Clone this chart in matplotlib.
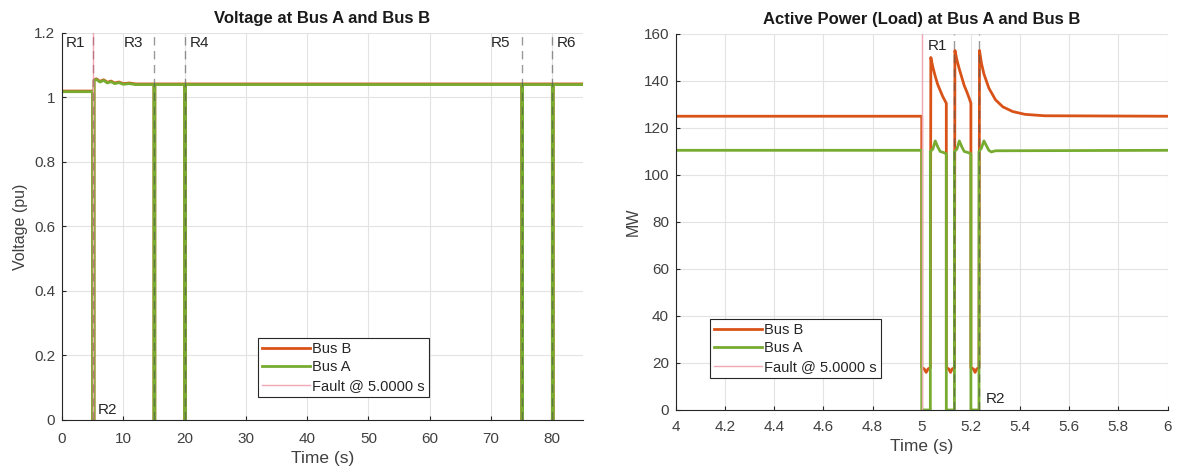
import matplotlib.pyplot as plt

plt.rcParams["font.family"] = ["Liberation Sans", "DejaVu Sans"]

BUS_B = "#D95319"
BUS_A = "#77AC30"
FAULT = "#F2A7B5"
TXT = "#404040"

# ── left: voltage over full run ──────────────────────────────────────────────
v_t = [0, 5.0, 5.0, 5.23, 5.23, 5.6, 6.2, 6.8, 7.4, 8.0, 8.6, 9.3, 10.0, 11.0,
       12.0, 15.0, 15.0, 15.15, 15.15, 20.0, 20.0, 20.15, 20.15, 75.0, 75.0,
       75.15, 75.15, 80.0, 80.0, 80.15, 80.15, 85.0]
v_a = [1.018, 1.018, 0, 0, 1.052, 1.056, 1.048, 1.053, 1.045, 1.049, 1.043,
       1.046, 1.041, 1.043, 1.040, 1.040, 0, 0, 1.040, 1.040, 0, 0, 1.040,
       1.040, 0, 0, 1.040, 1.040, 0, 0, 1.040, 1.040]
v_b = [1.020, 1.020, 0, 0, 1.054, 1.058, 1.050, 1.055, 1.047, 1.051, 1.045,
       1.048, 1.043, 1.045, 1.042, 1.042, 0, 0, 1.042, 1.042, 0, 0, 1.042,
       1.042, 0, 0, 1.042, 1.042, 0, 0, 1.042, 1.042]
v_marks = [5, 15, 20, 75, 80]
v_labels = [("R1", 0.6, "top"), ("R3", 10.0, "top"), ("R4", 20.9, "top"),
            ("R5", 70.0, "top"), ("R6", 80.8, "top"), ("R2", 5.9, "bottom")]

# ── right: active power zoomed on the fault ─────────────────────────────────
p_t_b = [4.0, 5.0, 5.0, 5.01, 5.018, 5.026, 5.035, 5.037, 5.045, 5.055, 5.065,
         5.075, 5.085, 5.1, 5.1, 5.11, 5.117, 5.124, 5.133, 5.135, 5.143, 5.153,
         5.163, 5.173, 5.183, 5.192, 5.2, 5.2, 5.21, 5.217, 5.224, 5.233, 5.235,
         5.243, 5.253, 5.273, 5.3, 5.33, 5.37, 5.42, 5.5, 6.0]
p_b = [125, 125, 18, 17.5, 16, 17.5, 18, 150, 146, 142, 138.5, 136, 133.5,
       130.5, 18, 17.5, 16, 17.5, 18, 153, 149, 145, 141.5, 138, 135.5, 133,
       130.5, 18, 17.5, 16, 17.5, 18, 153, 147.5, 143, 137, 132, 129, 127,
       125.8, 125.2, 125]
p_t_a = [4.0, 5.0, 5.0, 5.035, 5.035, 5.045, 5.055, 5.065, 5.075, 5.09, 5.1,
         5.1, 5.133, 5.133, 5.143, 5.153, 5.163, 5.173, 5.19, 5.2, 5.2, 5.233,
         5.233, 5.243, 5.253, 5.263, 5.273, 5.283, 5.3, 6.0]
p_a = [110.5, 110.5, 0, 0, 110, 111, 114.5, 112, 110, 109.5, 109, 0, 0, 110,
       111, 114.5, 112, 110, 109.5, 109, 0, 0, 110, 111.5, 114.5, 112.5, 110.5,
       109.8, 110.3, 110.5]
p_marks = [5.133, 5.233]
p_labels = [("R1", 5.025, "top"), ("R2", 5.26, "bottom")]
fault_t = 5.0


def _style(ax, xpad=5):
    ax.grid(True, color="#E3E3E3", lw=0.8)
    ax.set_axisbelow(True)
    for s in ("top", "right"):
        ax.spines[s].set_visible(False)
    for s in ("left", "bottom"):
        ax.spines[s].set_color("#262626")
        ax.spines[s].set_linewidth(0.8)
    ax.tick_params(direction="in", length=3, width=0.8, colors="#262626",
                   labelcolor=TXT, labelsize=11, pad=5)
    ax.tick_params(axis="x", pad=xpad)


def _legend(ax, anchor):
    leg = ax.legend(loc="lower left", bbox_to_anchor=anchor, fontsize=10.5,
                    handlelength=3.3, fancybox=False, framealpha=1,
                    borderpad=0.3, labelspacing=0.3, handletextpad=0.1,
                    borderaxespad=0)
    leg.get_frame().set_edgecolor("#262626")
    leg.get_frame().set_linewidth(0.8)
    for t in leg.get_texts():
        t.set_color("#262626")


fig = plt.figure(figsize=(11.83, 4.70), dpi=100)
ax1 = fig.add_axes([0.0524, 0.1064, 0.4404, 0.8234])
ax2 = fig.add_axes([0.5714, 0.1277, 0.4155, 0.8000])

# left
_style(ax1, xpad=9)
ax1.plot(v_t, v_b, color=BUS_B, lw=2, label="Bus B")
ax1.plot(v_t, v_a, color=BUS_A, lw=2, label="Bus A")
ax1.axvline(fault_t, color=FAULT, lw=1, label="Fault @ 5.0000 s")
for x in v_marks:
    ax1.axvline(x, color="#555555" if x != 5 else "#A05060", lw=1,
                ls=(0, (6, 4)), alpha=0.6)
for txt, x, va in v_labels:
    ax1.text(x, 1.19 if va == "top" else 0.008, txt, ha="left", va=va,
             fontsize=11, color="#262626")
ax1.set_xlim(0, 85)
ax1.set_ylim(0, 1.2)
ax1.set_xticks(range(0, 81, 10))
ax1.set_yticks([0, 0.2, 0.4, 0.6, 0.8, 1, 1.2])
ax1.set_yticklabels(["0", "0.2", "0.4", "0.6", "0.8", "1", "1.2"])
ax1.set_xlabel("Time (s)", fontsize=12.5, color=TXT, labelpad=3)
ax1.set_ylabel("Voltage (pu)", fontsize=11.5, color=TXT, labelpad=4)
ax1.set_title("Voltage at Bus A and Bus B", fontsize=12, fontweight="bold",
              color="#1a1a1a", pad=7)
_legend(ax1, (0.376, 0.059))

# right
_style(ax2, xpad=7)
ax2.plot(p_t_b, p_b, color=BUS_B, lw=2, label="Bus B")
ax2.plot(p_t_a, p_a, color=BUS_A, lw=2, label="Bus A")
ax2.axvline(fault_t, color=FAULT, lw=1, label="Fault @ 5.0000 s")
for x in p_marks:
    ax2.axvline(x, color="#555555", lw=1, ls=(0, (6, 4)), alpha=0.6)
for txt, x, va in p_labels:
    ax2.text(x, 158 if va == "top" else 1.5, txt, ha="left", va=va,
             fontsize=11, color="#262626")
ax2.set_xlim(4, 6)
ax2.set_ylim(0, 160)
ax2.set_xticks([4, 4.2, 4.4, 4.6, 4.8, 5, 5.2, 5.4, 5.6, 5.8, 6])
ax2.set_xticklabels(["4", "4.2", "4.4", "4.6", "4.8", "5", "5.2", "5.4",
                     "5.6", "5.8", "6"])
ax2.set_xlabel("Time (s)", fontsize=12.5, color=TXT, labelpad=4)
ax2.set_ylabel("MW", fontsize=11.5, color=TXT, labelpad=2)
ax2.set_title("Active Power (Load) at Bus A and Bus B", fontsize=12,
              fontweight="bold", color="#1a1a1a", pad=7)
_legend(ax2, (0.069, 0.085))

fig.savefig("out.png", dpi=100)
